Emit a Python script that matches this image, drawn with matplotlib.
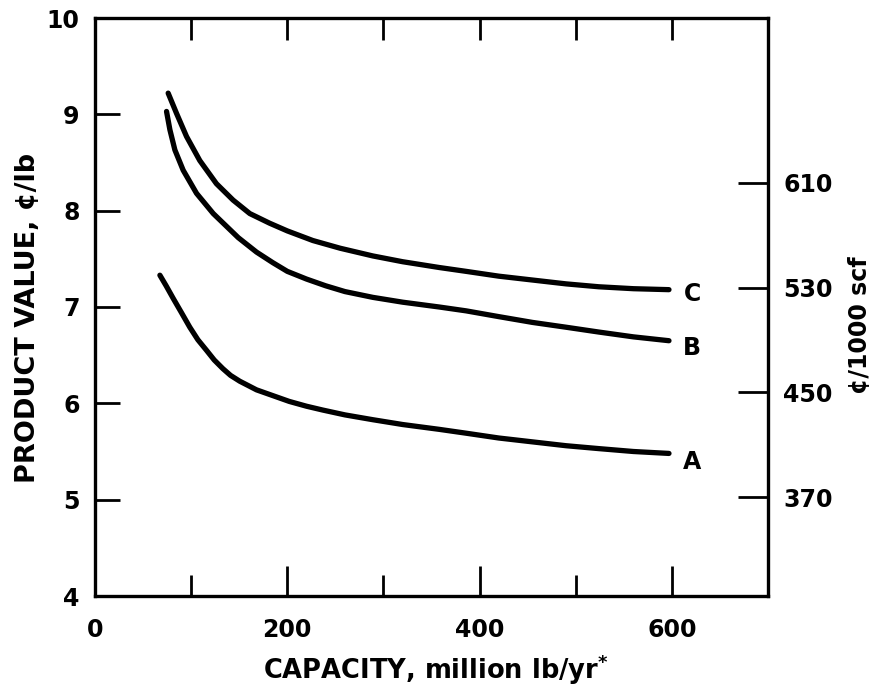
import numpy as np
import matplotlib.pyplot as plt

# capacity (million lb/yr) and product value (cents/lb)
cap_a = [67.5, 74, 81.3, 90, 98.6, 107, 116, 124, 133, 141, 150.5, 168, 185, 202, 220,
         237, 260, 289, 320, 358, 386, 420, 455, 490, 524, 560, 597]
val_a = [7.33, 7.22, 7.09, 6.94, 6.79, 6.66, 6.55, 6.45, 6.36, 6.29, 6.23, 6.14, 6.08, 6.02, 5.97,
         5.93, 5.88, 5.83, 5.78, 5.73, 5.69, 5.64, 5.60, 5.56, 5.53, 5.50, 5.48]

cap_b = [74.4, 77.9, 83.1, 91.7, 105.6, 123, 149, 168, 185, 200, 220, 240, 260, 289, 320, 358,
         386, 420, 455, 490, 524, 560, 597]
val_b = [9.03, 8.84, 8.63, 8.42, 8.18, 7.97, 7.72, 7.57, 7.46, 7.37, 7.29, 7.22, 7.16, 7.10, 7.05, 7.00,
         6.96, 6.90, 6.84, 6.79, 6.74, 6.69, 6.65]

cap_c = [76.1, 84.8, 95.2, 109, 126.3, 143.6, 161, 181.6, 200, 226.6, 255, 289, 320, 358,
         386, 420, 455, 490, 524, 560, 597]
val_c = [9.22, 9.01, 8.77, 8.52, 8.28, 8.11, 7.97, 7.87, 7.79, 7.69, 7.61, 7.53, 7.47, 7.41,
         7.37, 7.32, 7.28, 7.24, 7.21, 7.19, 7.18]

curve_labels = ['A', 'B', 'C']
label_y = [5.39, 6.57, 7.14]

x_major = [0, 200, 400, 600]
x_minor = [100, 300, 500]
y_ticks = [4, 5, 6, 7, 8, 9, 10]
scf_ticks = [370, 450, 530, 610]
scf_per_cent_lb = 73.6

plt.rcParams['font.family'] = ['DejaVu Sans']
plt.rcParams['font.weight'] = 'bold'

fig = plt.figure(figsize=(8.84, 6.98), dpi=100)
ax = fig.add_axes([95 / 884, 1 - 596 / 698, (768 - 95) / 884, (596 - 18) / 698])

for cx, cy in [(cap_a, val_a), (cap_b, val_b), (cap_c, val_c)]:
    ax.plot(cx, cy, color='black', lw=3.8, solid_capstyle='round', solid_joinstyle='round')

for lab, ly in zip(curve_labels, label_y):
    ax.text(621, ly, lab, ha='center', va='center', fontsize=17, fontweight='bold')

ax.set_xlim(0, 700)
ax.set_ylim(4, 10)

for s in ax.spines.values():
    s.set_linewidth(2.4)

ax.set_xticks(x_major)
ax.set_xticks(x_minor, minor=True)
ax.set_xticklabels([str(v) for v in x_major])
ax.set_yticks(y_ticks)
ax.set_yticklabels([str(v) for v in y_ticks])
ax.tick_params(axis='x', which='major', direction='in', length=21.6, width=2, pad=16, labelsize=17)
ax.tick_params(axis='x', which='minor', direction='in', length=15, width=2)
ax.tick_params(axis='y', which='major', direction='in', length=18, width=2, pad=11, labelsize=17)

top = ax.secondary_xaxis('top')
top.set_xticks([100, 200, 300, 400, 500, 600])
top.set_xticklabels([])
top.tick_params(direction='in', length=16, width=2)
top.spines['top'].set_visible(False)

right = ax.secondary_yaxis('right', functions=(lambda v: v * scf_per_cent_lb,
                                               lambda v: v / scf_per_cent_lb))
right.set_yticks(scf_ticks)
right.set_yticklabels([str(v) for v in scf_ticks])
right.tick_params(direction='in', length=21.6, width=2, pad=11, labelsize=17)
right.spines['right'].set_visible(False)

fig.text(28 / 884, 1 - 318 / 698, 'PRODUCT VALUE, ¢/lb', rotation=90,
         ha='center', va='center', fontsize=19.5, fontweight='bold')
fig.text(436 / 884, 1 - 670 / 698, 'CAPACITY, million lb/yr$^{\\mathbf{*}}$',
         ha='center', va='center', fontsize=18.5, fontweight='bold')
fig.text(860 / 884, 1 - 325 / 698, '¢/1000 scf', rotation=90,
         ha='center', va='center', fontsize=17, fontweight='bold')

fig.savefig('out.png', dpi=100)
